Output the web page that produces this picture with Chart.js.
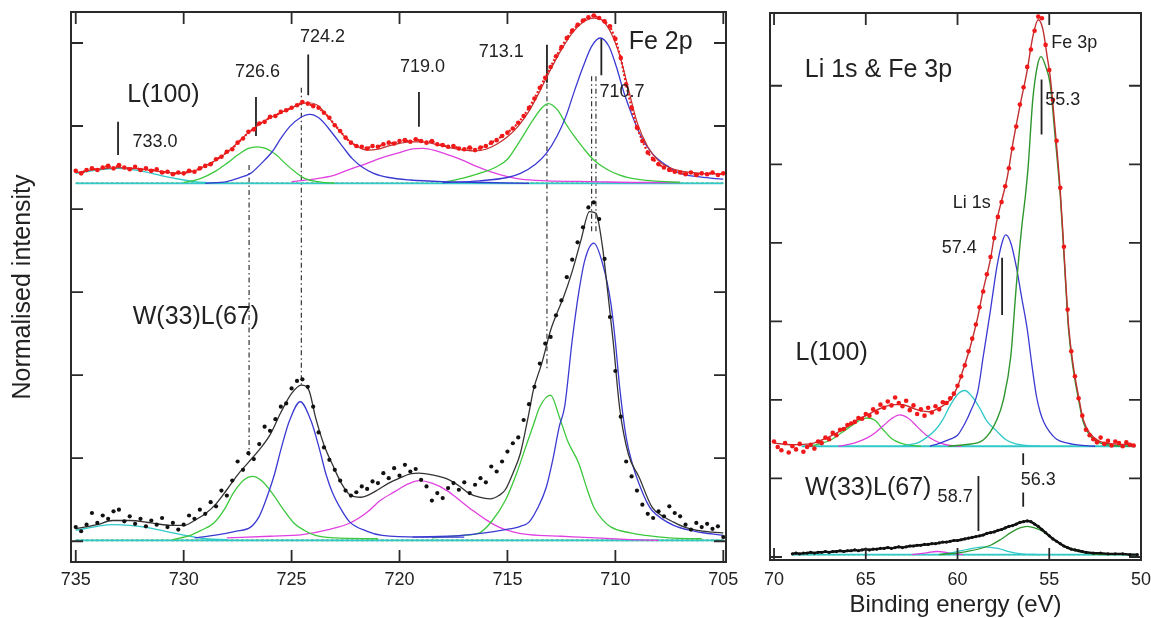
<!DOCTYPE html>
<html>
<head>
<meta charset="utf-8">
<script src="https://cdn.jsdelivr.net/npm/chart.js@4.4.1/dist/chart.umd.min.js"></script>
<style>
  html, body { margin: 0; padding: 0; background: #fff; }
  #wrap { position: relative; width: 1151px; height: 618px; overflow: hidden; }
  #fe2p { position: absolute; left: 0; top: 0; }
  #li1s { position: absolute; left: 740px; top: 0; }
</style>
</head>
<body>
<div id="wrap">
  <canvas id="fe2p" width="740" height="618"></canvas>
  <canvas id="li1s" width="411" height="618"></canvas>
</div>
<script>
/* XPS Fe 2p (left) and Li 1s & Fe 3p (right) panels
   values, intensity in tick units */

// ---- axis ticks ----
const FE_X_TICKS = [735, 730, 725, 720, 715, 710, 705];
const LI_X_TICKS = [70, 65, 60, 55, 50];
const Y_TICKS = [0, 1, 2, 3, 4, 5, 6];

// ---- Fe 2p, L(100) (upper trace) ----
const feL100Dots = [
  [735.0,4.46],[734.75,4.43],[734.5,4.47],[734.25,4.49],[734.0,4.47],[733.75,4.50],[733.5,4.52],[733.25,4.49],
  [733.0,4.53],[732.75,4.50],[732.5,4.48],[732.25,4.51],[732.0,4.47],[731.75,4.49],[731.5,4.46],[731.25,4.48],
  [731.0,4.44],[730.75,4.45],[730.5,4.42],[730.25,4.44],[730.0,4.43],[729.75,4.46],[729.5,4.45],[729.25,4.49],
  [729.0,4.52],[728.75,4.54],[728.5,4.60],[728.25,4.63],[728.0,4.69],[727.75,4.72],[727.5,4.80],[727.25,4.85],
  [727.0,4.93],[726.75,4.96],[726.5,5.03],[726.25,5.05],[726.0,5.11],[725.75,5.12],[725.5,5.17],[725.25,5.19],
  [725.0,5.22],[724.75,5.25],[724.5,5.29],[724.25,5.27],[724.0,5.24],[723.75,5.22],[723.5,5.16],[723.25,5.10],
  [723.0,5.01],[722.75,4.94],[722.5,4.86],[722.25,4.80],[722.0,4.76],[721.75,4.75],[721.5,4.73],[721.25,4.76],
  [721.0,4.75],[720.75,4.78],[720.5,4.80],[720.25,4.79],[720.0,4.82],[719.75,4.83],[719.5,4.81],[719.25,4.84],
  [719.0,4.82],[718.75,4.80],[718.5,4.82],[718.25,4.78],[718.0,4.77],[717.75,4.75],[717.5,4.76],[717.25,4.73],
  [717.0,4.72],[716.75,4.74],[716.5,4.71],[716.25,4.74],[716.0,4.76],[715.75,4.80],[715.5,4.83],[715.25,4.88],
  [715.0,4.92],[714.75,4.97],[714.5,5.04],[714.25,5.12],[714.0,5.22],[713.75,5.33],[713.5,5.46],[713.25,5.58],
  [713.0,5.71],[712.75,5.84],[712.5,5.95],[712.25,6.06],[712.0,6.15],[711.75,6.22],[711.5,6.27],[711.25,6.31],
  [711.0,6.33],[710.75,6.30],[710.5,6.26],[710.25,6.20],[710.0,6.05],[709.75,5.82],[709.5,5.50],[709.25,5.22],
  [709.0,4.98],[708.75,4.82],[708.5,4.68],[708.25,4.60],[708.0,4.54],[707.75,4.50],[707.5,4.47],[707.25,4.45],
  [707.0,4.44],[706.75,4.42],[706.5,4.44],[706.25,4.41],[706.0,4.43],[705.75,4.42],[705.5,4.44],[705.25,4.41],[705.0,4.43]
];
const feL100Fit = [
  [735,4.44],[734,4.48],[733,4.50],[732,4.48],[731,4.45],[730.2,4.43],[729.5,4.46],[729,4.52],[728.5,4.59],
  [728,4.68],[727.5,4.80],[727,4.92],[726.5,5.02],[726,5.10],[725.5,5.16],[725,5.22],[724.5,5.27],[724.2,5.28],
  [723.8,5.25],[723.4,5.14],[723,5.01],[722.5,4.86],[722,4.76],[721.5,4.71],[721,4.72],[720.5,4.76],[720,4.79],
  [719.5,4.81],[719,4.81],[718.5,4.79],[718,4.76],[717.5,4.73],[717,4.71],[716.5,4.70],[716,4.72],[715.5,4.78],
  [715,4.87],[714.5,5.00],[714,5.18],[713.5,5.42],[713,5.68],[712.5,5.92],[712,6.12],[711.5,6.25],[711,6.30],
  [710.6,6.27],[710.2,6.12],[709.8,5.85],[709.4,5.45],[709,5.05],[708.5,4.75],[708,4.58],[707.5,4.50],
  [707,4.46],[706,4.43],[705,4.42]
];
const feL100Cyan = [[735,4.43],[734,4.47],[733,4.49],[732,4.46],[731,4.40],[730,4.35],[729.5,4.33],[729,4.32],[728,4.31]];
const feL100Green1 = [[730,4.32],[729.2,4.37],[728.5,4.46],[728,4.55],[727.5,4.65],[727,4.73],[726.6,4.75],[726.2,4.73],
  [725.7,4.65],[725.3,4.55],[724.8,4.44],[724.4,4.37],[723.8,4.33],[723,4.31]];
const feL100Blue1 = [[729,4.31],[728,4.33],[727.5,4.37],[726.9,4.43],[726.4,4.55],[725.9,4.69],[725.5,4.85],[725.1,4.99],
  [724.6,5.10],[724.15,5.14],[723.7,5.09],[723.1,4.91],[722.6,4.74],[722.2,4.61],[721.7,4.50],[721.2,4.43],
  [720.5,4.38],[719.5,4.35],[718,4.33],[716,4.32],[714,4.31]];
const feL100Magenta = [[725,4.33],[724,4.36],[723,4.41],[722.4,4.47],[721.5,4.55],[720.9,4.61],[720,4.68],[719.5,4.72],
  [718.9,4.73],[718.3,4.70],[717.6,4.64],[717,4.58],[716.4,4.51],[715.8,4.45],[715,4.39],[714.4,4.36],[713.2,4.34],
  [711,4.33],[709,4.32],[707,4.32]];
const feL100Green2 = [[718,4.32],[717.1,4.37],[716.3,4.43],[715.5,4.51],[715,4.60],[714.4,4.83],[713.8,5.08],[713.4,5.22],
  [713.1,5.27],[712.7,5.20],[712.3,5.03],[712,4.91],[711.5,4.74],[711,4.59],[710.4,4.48],[709.8,4.41],[709,4.36],
  [708.3,4.34],[707,4.32]];
const feL100Blue2 = [[718,4.32],[716.3,4.34],[715,4.38],[714.4,4.43],[713.7,4.54],[713.2,4.67],[712.7,4.88],[712.3,5.11],
  [711.9,5.42],[711.5,5.71],[711.1,5.96],[710.7,6.06],[710.3,5.96],[709.95,5.71],[709.6,5.40],[709.2,5.11],
  [708.8,4.87],[708.3,4.67],[707.6,4.52],[707,4.43],[706.2,4.39],[705.5,4.37],[705,4.36]];
const feL100Base = [[735,4.31],[705,4.31]];

// ---- Fe 2p, W(33)L(67) (lower trace) ----
const feW33Dots = [
  [735.0,0.17],[734.75,0.12],[734.5,0.20],[734.25,0.34],[734.0,0.22],[733.75,0.31],[733.5,0.27],[733.25,0.36],
  [733.0,0.38],[732.75,0.24],[732.5,0.30],[732.25,0.21],[732.0,0.27],[731.75,0.18],[731.5,0.25],[731.25,0.20],
  [731.0,0.28],[730.75,0.17],[730.5,0.22],[730.25,0.14],[730.0,0.20],[729.75,0.31],[729.5,0.27],[729.25,0.38],
  [729.0,0.33],[728.75,0.47],[728.5,0.42],[728.25,0.61],[728.0,0.55],[727.75,0.73],[727.5,0.96],[727.25,0.86],
  [727.0,1.06],[726.75,0.99],[726.5,1.17],[726.25,1.38],[726.0,1.33],[725.75,1.47],[725.5,1.62],[725.25,1.66],
  [725.0,1.84],[724.75,1.93],[724.5,1.95],[724.25,1.86],[724.0,1.62],[723.75,1.31],[723.5,1.13],[723.25,0.98],
  [723.0,0.86],[722.75,0.73],[722.5,0.61],[722.25,0.55],[722.0,0.59],[721.75,0.66],[721.5,0.63],[721.25,0.72],
  [721.0,0.70],[720.75,0.82],[720.5,0.76],[720.25,0.88],[720.0,0.79],[719.75,0.92],[719.5,0.84],[719.25,0.87],
  [719.0,0.74],[718.75,0.66],[718.5,0.49],[718.25,0.58],[718.0,0.52],[717.75,0.64],[717.5,0.70],[717.25,0.62],
  [717.0,0.71],[716.75,0.58],[716.5,0.68],[716.25,0.76],[716.0,0.71],[715.75,0.90],[715.5,0.84],[715.25,0.96],
  [715.0,1.08],[714.75,1.18],[714.5,1.25],[714.25,1.46],[714.0,1.65],[713.75,1.86],[713.5,2.14],[713.25,2.38],
  [713.0,2.46],[712.75,2.72],[712.5,2.90],[712.25,3.18],[712.0,3.39],[711.75,3.60],[711.5,3.78],[711.25,4.02],
  [711.0,4.08],[710.75,3.88],[710.5,3.40],[710.25,2.70],[710.0,2.05],[709.75,1.50],[709.5,0.96],[709.25,0.78],
  [709.0,0.61],[708.75,0.44],[708.5,0.33],[708.25,0.28],[708.0,0.36],[707.75,0.30],[707.5,0.42],[707.25,0.34],
  [707.0,0.30],[706.75,0.20],[706.5,0.14],[706.25,0.22],[706.0,0.17],[705.75,0.21],[705.5,0.15],[705.25,0.18],[705.0,0.05]
];
const feW33Fit = [
  [735,0.15],[734,0.20],[733.3,0.25],[732.5,0.25],[731.5,0.22],[730.5,0.19],[730,0.19],[729.5,0.25],[729,0.33],
  [728.5,0.45],[728,0.62],[727.5,0.80],[727,0.95],[726.5,1.10],[726,1.28],[725.5,1.55],[725,1.78],[724.55,1.88],
  [724.2,1.82],[723.9,1.50],[723.5,1.16],[723.1,0.92],[722.7,0.70],[722.3,0.56],[721.8,0.53],[721.5,0.55],
  [721,0.62],[720.5,0.70],[720,0.76],[719.5,0.81],[719.1,0.82],[718.5,0.80],[717.8,0.75],[717.2,0.66],
  [716.8,0.58],[716.3,0.53],[715.8,0.51],[715.4,0.55],[715.1,0.62],[714.7,0.85],[714.4,1.06],[714,1.55],
  [713.8,1.82],[713.4,2.15],[713,2.54],[712.7,2.75],[712.4,2.94],[712,3.25],[711.6,3.62],[711.2,3.97],
  [710.9,3.95],[710.6,3.55],[710.4,3.11],[710.1,2.40],[709.8,1.60],[709.4,1.05],[708.9,0.77],[708.3,0.41],
  [707.8,0.30],[707.3,0.23],[706.8,0.17],[706.2,0.13],[705.5,0.11],[705,0.10]
];
const feW33Cyan = [[735,0.13],[734,0.18],[733.3,0.20],[732.5,0.19],[731.6,0.16],[730.5,0.10],[729.7,0.06],[729,0.03],[728,0.02]];
const feW33Green1 = [[730.5,0.02],[729.7,0.07],[729.2,0.13],[728.6,0.22],[728.1,0.39],[727.7,0.58],[727.2,0.74],[726.8,0.78],
  [726.4,0.73],[725.9,0.58],[725.4,0.39],[724.9,0.22],[724.4,0.13],[723.9,0.07],[723,0.04],[721,0.03]];
const feW33Blue1 = [[729.5,0.04],[728.6,0.07],[727.6,0.12],[726.9,0.17],[726.5,0.30],[726.2,0.49],[725.8,0.80],[725.5,1.10],
  [725.1,1.45],[724.6,1.68],[724.1,1.45],[723.7,1.10],[723.4,0.80],[723.1,0.58],[722.7,0.38],[722.3,0.23],
  [721.5,0.12],[720.8,0.07],[719,0.05],[717,0.05]];
const feW33Magenta = [[728,0.04],[726,0.06],[724.5,0.08],[723.3,0.14],[722.3,0.22],[721.5,0.35],[720.9,0.49],[720.2,0.60],
  [719.6,0.69],[719.1,0.73],[718.5,0.70],[717.8,0.61],[717.2,0.49],[716.6,0.37],[716,0.26],[715.4,0.17],
  [714.7,0.11],[714,0.08],[712.5,0.06],[711.7,0.05],[709.3,0.02],[708,0.01]];
const feW33Green2 = [[718.5,0.04],[717.1,0.07],[716.3,0.10],[715.7,0.25],[715.1,0.49],[714.6,0.80],[714.2,1.10],[713.8,1.40],
  [713.5,1.62],[713.0,1.76],[712.6,1.50],[712.2,1.20],[711.7,0.94],[711.3,0.62],[711.0,0.41],[710.6,0.26],
  [710.2,0.17],[709.3,0.10],[708.6,0.07],[707.5,0.04],[706,0.03]];
const feW33Blue2 = [[719.4,0.05],[717.1,0.07],[715.1,0.14],[714.4,0.18],[714.0,0.23],[713.6,0.40],[713.2,0.65],[712.9,0.98],
  [712.6,1.38],[712.35,1.62],[712.0,2.42],[711.7,2.99],[711.4,3.40],[711.0,3.59],[710.6,3.35],[710.2,2.85],
  [710.0,2.40],[709.8,1.85],[709.5,1.25],[709.2,0.92],[708.9,0.69],[708.5,0.45],[708.3,0.37],[707.3,0.19],
  [706.3,0.12],[705,0.07]];
const feW33Base = [[735,0.01],[705,0.01]];

// peak markers [eV, top, bottom] and guide lines
const feMarkers = [[733.04,5.05,4.65],[726.65,5.35,4.88],[724.23,5.86,5.37],[719.1,5.41,4.99],[713.17,5.98,5.52],[710.65,6.06,5.61]];
const feGuides = [[726.97,4.53,1.03],[724.55,5.46,1.88],[713.17,5.51,2.06],[711.1,5.6,3.7],[710.9,5.6,3.7]];
const feNotes = [['733.0',731.33,4.81],['726.6',726.58,5.65],['724.2',723.57,6.07],['719.0',718.94,5.71],['713.1',715.29,5.89],['710.7',709.69,5.41]];
const feTitles = [['L(100)',730.94,5.37],['W(33)L(67)',729.43,2.70],['Fe 2p',707.9,6.01]];

// ---- Li 1s & Fe 3p, L(100) ----
const liL100Dots = [
  [70.0,1.47],[69.8,1.40],[69.6,1.36],[69.4,1.45],[69.2,1.33],[69.0,1.41],[68.8,1.37],[68.6,1.44],[68.4,1.34],
  [68.2,1.40],[68.0,1.43],[67.8,1.38],[67.6,1.47],[67.4,1.45],[67.2,1.52],[67.0,1.50],[66.8,1.58],[66.6,1.55],
  [66.4,1.62],[66.2,1.63],[66.0,1.68],[65.8,1.70],[65.6,1.72],[65.4,1.77],[65.2,1.76],[65.0,1.82],[64.8,1.80],
  [64.6,1.88],[64.4,1.84],[64.2,1.94],[64.0,1.90],[63.8,1.98],[63.6,1.93],[63.4,2.03],[63.2,1.96],[63.0,1.92],
  [62.8,1.99],[62.6,1.87],[62.4,1.93],[62.2,1.82],[62.0,1.88],[61.8,1.80],[61.6,1.90],[61.4,1.84],[61.2,1.92],
  [61.0,1.88],[60.8,1.97],[60.6,1.96],[60.4,2.02],[60.2,2.08],[60.0,2.18],[59.8,2.30],[59.6,2.44],[59.4,2.62],
  [59.2,2.78],[59.0,2.96],[58.8,3.18],[58.6,3.38],[58.4,3.60],[58.2,3.82],[58.0,4.06],[57.8,4.33],[57.6,4.52],
  [57.4,4.72],[57.2,4.95],[57.0,5.20],[56.8,5.48],[56.6,5.76],[56.4,5.98],[56.2,6.24],[56.0,6.46],[55.8,6.70],
  [55.6,6.88],[55.4,6.86],[55.2,6.52],[55.0,6.20],[54.8,5.82],[54.6,5.30],[54.4,4.70],[54.2,3.95],[54.0,3.15],
  [53.8,2.62],[53.6,2.30],[53.4,2.02],[53.2,1.80],[53.0,1.62],[52.8,1.55],[52.6,1.50],[52.4,1.46],[52.2,1.52],
  [52.0,1.44],[51.8,1.48],[51.6,1.42],[51.4,1.47],[51.2,1.45],[51.0,1.41],[50.8,1.46],[50.6,1.43],[50.4,1.42]
];
const liL100Fit = [
  [70,1.45],[69,1.43],[68,1.44],[67.5,1.48],[67,1.53],[66.5,1.59],[66,1.66],[65.5,1.74],[65,1.80],[64.5,1.86],
  [64,1.91],[63.5,1.94],[63,1.94],[62.5,1.90],[62,1.86],[61.5,1.85],[61,1.90],[60.4,2.00],[60.0,2.17],[59.7,2.38],
  [59.3,2.68],[58.9,3.05],[58.6,3.40],[58.2,3.80],[57.85,4.29],[57.55,4.58],[57.3,4.82],[56.95,5.31],[56.6,5.74],
  [56.2,6.20],[55.9,6.62],[55.6,6.84],[55.35,6.72],[55.1,6.35],[54.95,6.12],[54.7,5.50],[54.4,4.66],[54.25,4.10],
  [54.1,3.50],[53.95,2.95],[53.7,2.45],[53.4,2.04],[53.15,1.75],[52.8,1.58],[52.3,1.48],[51.5,1.44],[50.4,1.43]
];
const liL100Green65 = [[68,1.41],[67.7,1.43],[66.9,1.49],[66.4,1.57],[65.85,1.66],[65.4,1.73],[64.95,1.77],[64.5,1.74],
  [64.05,1.62],[63.6,1.51],[63.1,1.45],[62.5,1.42],[62,1.41]];
const liL100Magenta = [[66.5,1.41],[66,1.43],[65.4,1.47],[64.9,1.52],[64.5,1.58],[64.05,1.67],[63.6,1.76],[63.15,1.81],
  [62.7,1.77],[62.2,1.66],[61.7,1.55],[61.3,1.49],[60.8,1.44],[60.4,1.42],[59.8,1.41]];
const liL100Cyan = [[63,1.41],[62.6,1.43],[62.1,1.46],[61.7,1.52],[61.2,1.62],[60.8,1.75],[60.4,1.93],[60.0,2.07],[59.6,2.12],
  [59.2,2.04],[58.8,1.90],[58.4,1.73],[57.85,1.60],[57.4,1.50],[56.95,1.45],[56.3,1.42],[55.5,1.41]];
const liL100Blue = [[61.5,1.41],[60.95,1.45],[60.4,1.50],[60.0,1.55],[59.6,1.70],[59.3,1.85],[58.9,2.10],[58.6,2.55],
  [58.2,3.15],[57.85,3.70],[57.55,4.02],[57.37,4.10],[57.1,4.00],[56.8,3.70],[56.5,3.30],[56.2,2.90],[55.95,2.45],
  [55.7,2.05],[55.5,1.85],[55.3,1.72],[55.0,1.60],[54.6,1.50],[54.0,1.45],[53.2,1.42],[52.5,1.41]];
const liL100Fe3p = [[60.5,1.41],[59.6,1.43],[58.6,1.49],[57.85,1.75],[57.5,2.00],[57.1,2.55],[56.8,3.44],[56.5,4.20],
  [56.3,4.60],[56.15,4.97],[55.9,5.82],[55.65,6.25],[55.45,6.37],[55.2,6.25],[54.95,6.02],[54.7,5.40],[54.4,4.60],
  [54.25,4.05],[54.1,3.45],[53.95,2.90],[53.7,2.40],[53.4,2.00],[53.15,1.72],[52.8,1.55],[52.3,1.46],[51.5,1.42],[50.5,1.41]];
const liL100Base = [[68.5,1.41],[50.3,1.41]];

// ---- Li 1s & Fe 3p, W(33)L(67) ----
const liW33Dots = [
  [69.0,0.04],[68.8,0.05],[68.6,0.04],[68.4,0.05],[68.2,0.05],[68.0,0.06],[67.8,0.05],[67.6,0.06],[67.4,0.06],
  [67.2,0.07],[67.0,0.06],[66.8,0.07],[66.6,0.07],[66.4,0.08],[66.2,0.07],[66.0,0.08],[65.8,0.08],[65.6,0.09],
  [65.4,0.08],[65.2,0.09],[65.0,0.10],[64.8,0.09],[64.6,0.10],[64.4,0.10],[64.2,0.11],[64.0,0.11],[63.8,0.12],
  [63.6,0.11],[63.4,0.12],[63.2,0.13],[63.0,0.12],[62.8,0.13],[62.6,0.14],[62.4,0.14],[62.2,0.15],[62.0,0.15],
  [61.8,0.16],[61.6,0.16],[61.4,0.17],[61.2,0.17],[61.0,0.18],[60.8,0.19],[60.6,0.19],[60.4,0.20],[60.2,0.21],
  [60.0,0.21],[59.8,0.22],[59.6,0.23],[59.4,0.24],[59.2,0.25],[59.0,0.26],[58.8,0.27],[58.6,0.28],[58.4,0.30],
  [58.2,0.31],[58.0,0.32],[57.8,0.34],[57.6,0.35],[57.4,0.37],[57.2,0.39],[57.0,0.40],[56.8,0.42],[56.6,0.44],
  [56.4,0.45],[56.2,0.46],[56.0,0.45],[55.8,0.42],[55.6,0.39],[55.4,0.35],[55.2,0.31],[55.0,0.27],[54.8,0.23],
  [54.6,0.20],[54.4,0.17],[54.2,0.14],[54.0,0.12],[53.8,0.10],[53.6,0.09],[53.4,0.08],[53.2,0.07],[53.0,0.06],
  [52.6,0.05],[52.2,0.05],[51.8,0.04],[51.4,0.04],[51.0,0.04],[50.6,0.03],[50.2,0.03]
];
const liW33Green = [[61,0.03],[59.5,0.07],[58.2,0.15],[57.6,0.23],[57.1,0.31],[56.6,0.37],[56.2,0.39],[55.8,0.37],
  [55.3,0.32],[54.7,0.22],[54.2,0.13],[53.6,0.08],[53.0,0.05],[52,0.03],[50.3,0.03]];
const liW33Cyan = [[61,0.03],[60.2,0.06],[59.4,0.10],[58.6,0.13],[57.8,0.11],[57.2,0.07],[56.5,0.04],[55.5,0.03]];
const liW33Magenta = [[62.5,0.03],[61.8,0.05],[61.1,0.07],[60.4,0.05],[59.7,0.03]];
const liW33Base = [[69,0.03],[50.3,0.03]];

const liMarkers = [[55.42,6.08,5.38],[57.57,3.81,3.08],[58.86,1.03,0.33],[56.42,1.32,1.17],[56.42,0.82,0.64]];
const liNotes = [['Fe 3p',53.64,6.54],['55.3',54.27,5.82],['Li 1s',59.23,4.51],['57.4',59.91,3.94],['58.7',60.13,0.77],['56.3',55.6,0.98]];
const liTitles = [['Li 1s & Fe 3p',64.31,6.20],['L(100)',66.86,2.60],['W(33)L(67)',64.87,0.88]];

// ---------------------------------------------------------------
const FONT = "'Liberation Sans', Arial, Helvetica, sans-serif";
const INK = '#222';
Chart.defaults.font.family = FONT;
Chart.defaults.color = INK;

const C = {
  red: '#f01818', redFit: '#c03030', blue: '#3a3ad2', green: '#3cc83c',
  darkGreen: '#2e962e', magenta: '#e040e0', cyan: '#30c8c8', black: '#111'
};

const pts = arr => arr.map(([x, y]) => ({ x, y }));

function curve(data, color, width, order) {
  return { data: pts(data), showLine: true, borderColor: color, borderWidth: width || 1.3,
    pointRadius: 0, cubicInterpolationMode: 'monotone', order: order || 5 };
}
function dots(data, color, r, order) {
  return { data: pts(data), showLine: false, pointRadius: r, pointBackgroundColor: color,
    pointBorderWidth: 0, order: order || 1 };
}
function dotted(data, color, width, dash, order) {
  return { data: pts(data), showLine: true, borderColor: color, borderWidth: width,
    borderDash: dash, pointRadius: 0, tension: 0, order: order || 2 };
}
function vlines(list, color, width, dash) {
  return list.map(([x, a, b]) => ({
    data: [{ x, y: a }, { x, y: b }], showLine: true, borderColor: color, borderWidth: width,
    borderDash: dash || [], pointRadius: 0, order: 8
  }));
}

// frame with inward ticks on all four sides + text notes
function framePlugin(notes, titles, titleSize) {
  return {
    id: 'frame',
    afterDatasetsDraw(chart) {
      const { ctx, chartArea: a, scales: { x, y } } = chart;
      ctx.save();
      ctx.strokeStyle = '#2a2a2a';
      ctx.lineWidth = 2;
      ctx.strokeRect(a.left, a.top, a.right - a.left, a.bottom - a.top);
      ctx.lineWidth = 1.8;
      ctx.beginPath();
      x.ticks.forEach(t => {
        const px = x.getPixelForValue(t.value);
        ctx.moveTo(px, a.bottom); ctx.lineTo(px, a.bottom - 12);
        ctx.moveTo(px, a.top); ctx.lineTo(px, a.top + 12);
      });
      y.ticks.forEach(t => {
        const py = y.getPixelForValue(t.value);
        ctx.moveTo(a.left, py); ctx.lineTo(a.left + 12, py);
        ctx.moveTo(a.right, py); ctx.lineTo(a.right - 12, py);
      });
      ctx.stroke();
      ctx.fillStyle = INK;
      ctx.textAlign = 'center';
      ctx.textBaseline = 'middle';
      ctx.font = `18px ${FONT}`;
      notes.forEach(([t, vx, vy]) => ctx.fillText(t, x.getPixelForValue(vx), y.getPixelForValue(vy)));
      ctx.font = `${titleSize}px ${FONT}`;
      titles.forEach(([t, vx, vy]) => ctx.fillText(t, x.getPixelForValue(vx), y.getPixelForValue(vy)));
      ctx.restore();
    }
  };
}

function fixedTicks(list) {
  return s => { s.ticks = list.map(v => ({ value: v })); };
}

// ---- left: Fe 2p ----
new Chart(document.getElementById('fe2p'), {
  type: 'scatter',
  data: {
    datasets: [
      dots(feL100Dots, C.red, 2.3, 1),
      dotted(feL100Dots, C.red, 2.2, [2, 2], 2),
      curve(feL100Fit, C.redFit, 1.2, 3),
      curve(feL100Blue2, C.blue), curve(feL100Blue1, C.blue),
      curve(feL100Green2, C.green), curve(feL100Green1, C.green),
      curve(feL100Magenta, C.magenta), curve(feL100Cyan, C.cyan),
      curve(feL100Base, C.cyan, 1.8, 6), dotted(feL100Base, C.darkGreen, 1.6, [3, 2], 6),
      dots(feW33Dots, C.black, 2.1, 1),
      curve(feW33Fit, '#333', 1.3, 3),
      curve(feW33Blue2, C.blue), curve(feW33Blue1, C.blue),
      curve(feW33Green2, C.green), curve(feW33Green1, C.green),
      curve(feW33Magenta, C.magenta), curve(feW33Cyan, C.cyan),
      curve(feW33Base, C.cyan, 1.8, 6), dotted(feW33Base, C.darkGreen, 1.6, [3, 2], 6),
      ...vlines(feGuides, '#222', 1.1, [5, 3, 1.5, 3]),
      ...vlines(feMarkers, '#222', 1.8)
    ]
  },
  options: {
    responsive: false, animation: false, events: [],
    layout: { padding: { left: 0, top: 12, right: 14, bottom: 0 } },
    plugins: { legend: { display: false }, tooltip: { enabled: false } },
    scales: {
      x: {
        type: 'linear', reverse: true, min: 704.875, max: 735.22,
        afterBuildTicks: fixedTicks(FE_X_TICKS),
        afterFit: s => { s.height = 56; s.paddingLeft = 0; s.paddingRight = 0; },
        grid: { display: false, drawTicks: false }, border: { display: false },
        ticks: { font: { size: 18 }, color: INK, padding: 7, maxRotation: 0, autoSkip: false }
      },
      y: {
        min: -0.25, max: 6.373,
        afterBuildTicks: fixedTicks(Y_TICKS),
        afterFit: s => { s.width = 71; },
        grid: { display: false, drawTicks: false }, border: { display: false },
        ticks: { display: false },
        title: { display: true, text: 'Normalised intensity', color: INK,
          font: { size: 25, lineHeight: 1.2 }, padding: { top: 8, bottom: 0 } }
      }
    }
  },
  plugins: [framePlugin(feNotes, feTitles, 25)]
});

// ---- right: Li 1s & Fe 3p ----
new Chart(document.getElementById('li1s'), {
  type: 'scatter',
  data: {
    datasets: [
      dots(liL100Dots, C.red, 2.3, 1),
      curve(liL100Fit, C.redFit, 1.4, 3),
      curve(liL100Fe3p, C.darkGreen, 1.4), curve(liL100Blue, C.blue),
      curve(liL100Cyan, C.cyan), curve(liL100Magenta, C.magenta),
      curve(liL100Green65, C.green),
      curve(liL100Base, C.cyan, 1.8, 6),
      dots(liW33Dots, C.black, 1.6, 1),
      dotted(liW33Dots, C.black, 2.4, [], 2),
      curve(liW33Green, C.darkGreen, 1.3), curve(liW33Cyan, C.cyan), curve(liW33Magenta, C.magenta),
      curve(liW33Base, C.cyan, 1.8, 6), dotted(liW33Base, C.darkGreen, 1.4, [3, 2], 6),
      ...vlines(liMarkers, '#222', 1.8)
    ]
  },
  options: {
    responsive: false, animation: false, events: [],
    layout: { padding: { left: 0, top: 13, right: 10, bottom: 0 } },
    plugins: { legend: { display: false }, tooltip: { enabled: false } },
    scales: {
      x: {
        type: 'linear', reverse: true, min: 50, max: 70.22,
        afterBuildTicks: fixedTicks(LI_X_TICKS),
        afterFit: s => { s.height = 58; s.paddingLeft = 0; s.paddingRight = 0; },
        grid: { display: false, drawTicks: false }, border: { display: false },
        ticks: { font: { size: 18 }, color: INK, padding: 9, maxRotation: 0, autoSkip: false },
        title: { display: true, text: 'Binding energy (eV)', color: INK,
          font: { size: 24, lineHeight: 1 }, padding: { top: 0, bottom: 1 } }
      },
      y: {
        min: -0.038, max: 6.926,
        afterBuildTicks: fixedTicks(Y_TICKS),
        afterFit: s => { s.width = 30; },
        grid: { display: false, drawTicks: false }, border: { display: false },
        ticks: { display: false }
      }
    }
  },
  plugins: [framePlugin(liNotes, liTitles, 25)]
});
</script>
</body>
</html>
